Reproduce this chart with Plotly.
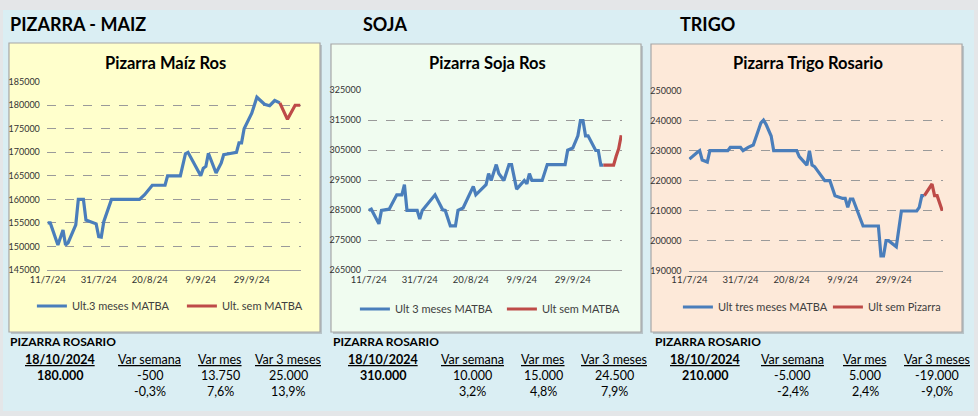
import plotly.graph_objects as go

W, H = 978, 416

# ---------------- DATA ----------------
tick_vals = ["2024-07-11", "2024-07-31", "2024-08-20", "2024-09-09", "2024-09-29"]
tick_text = ["11/7/24", "31/7/24", "20/8/24", "9/9/24", "29/9/24"]

maiz_dates = ["2024-07-11", "2024-07-12", "2024-07-15", "2024-07-17", "2024-07-18", "2024-07-19",
              "2024-07-22", "2024-07-23", "2024-07-25", "2024-07-26", "2024-07-30", "2024-07-31",
              "2024-08-01", "2024-08-02", "2024-08-05", "2024-08-16", "2024-08-18", "2024-08-21",
              "2024-08-26", "2024-08-27", "2024-09-01", "2024-09-03", "2024-09-04", "2024-09-09",
              "2024-09-10", "2024-09-11", "2024-09-12", "2024-09-15", "2024-09-17", "2024-09-18",
              "2024-09-20", "2024-09-23", "2024-09-24", "2024-09-25", "2024-09-26", "2024-09-29",
              "2024-10-01", "2024-10-02", "2024-10-04", "2024-10-06", "2024-10-08", "2024-10-10"]
maiz_vals = [155000, 155000, 150300, 153500, 150300, 150800,
             154600, 160000, 160000, 155600, 154800, 152100,
             152000, 155300, 160000, 160000, 161000, 163000,
             163000, 165000, 165000, 169700, 170000, 165000,
             166600, 167000, 169800, 165600, 167700, 169500,
             169700, 170000, 172000, 172000, 175000, 178300,
             181700, 181200, 180200, 179900, 181000, 180500]
maiz_sem_dates = ["2024-10-10", "2024-10-13", "2024-10-16", "2024-10-18"]
maiz_sem_vals = [180500, 177000, 180000, 180000]

soja_dates = ["2024-07-11", "2024-07-12", "2024-07-15", "2024-07-16", "2024-07-19", "2024-07-22",
              "2024-07-24", "2024-07-25", "2024-07-26", "2024-07-30", "2024-07-31", "2024-08-01",
              "2024-08-06", "2024-08-09", "2024-08-10", "2024-08-12", "2024-08-14", "2024-08-15",
              "2024-08-17", "2024-08-21", "2024-08-22", "2024-08-26", "2024-08-27", "2024-08-28",
              "2024-08-30", "2024-08-31", "2024-09-02", "2024-09-04", "2024-09-05", "2024-09-07",
              "2024-09-10", "2024-09-11", "2024-09-12", "2024-09-13", "2024-09-17", "2024-09-19",
              "2024-09-26", "2024-09-27", "2024-09-29", "2024-10-01", "2024-10-02", "2024-10-03",
              "2024-10-04", "2024-10-05", "2024-10-08", "2024-10-09", "2024-10-10", "2024-10-11"]
soja_vals = [284900, 285300, 280400, 284900, 285300, 290100,
             290100, 293500, 284900, 284900, 282000, 284900,
             290100, 285100, 284900, 279700, 279700, 284900,
             285700, 292900, 290100, 293500, 297200, 294900,
             300200, 297200, 294900, 300200, 300200, 292000,
             294900, 293800, 297200, 294900, 294900, 300200,
             300200, 305000, 305700, 309800, 314900, 314900,
             309800, 309800, 304900, 304900, 300000, 300000]
soja_sem_dates = ["2024-10-11", "2024-10-15", "2024-10-16", "2024-10-17", "2024-10-18"]
soja_sem_vals = [300000, 300000, 303000, 305500, 310000]

trigo_dates = ["2024-07-11", "2024-07-13", "2024-07-14", "2024-07-15", "2024-07-16", "2024-07-18",
               "2024-07-19", "2024-07-26", "2024-07-27", "2024-07-31", "2024-08-01", "2024-08-03",
               "2024-08-05", "2024-08-08", "2024-08-09", "2024-08-10", "2024-08-12", "2024-08-13",
               "2024-08-22", "2024-08-23", "2024-08-26", "2024-08-27", "2024-08-28", "2024-08-29",
               "2024-09-01", "2024-09-02", "2024-09-04", "2024-09-06", "2024-09-09", "2024-09-10",
               "2024-09-11", "2024-09-12", "2024-09-13", "2024-09-17", "2024-09-23", "2024-09-24",
               "2024-09-25", "2024-09-26", "2024-09-27", "2024-09-30", "2024-10-02", "2024-10-08",
               "2024-10-09", "2024-10-10", "2024-10-11"]
trigo_vals = [227200, 228900, 229400, 230000, 226900, 226200,
              230000, 230000, 231100, 231100, 230000, 231100,
              231900, 239300, 240200, 238800, 234900, 230000,
              230000, 228000, 225200, 230000, 225200, 224700,
              221300, 220000, 220000, 215000, 214100, 214100,
              211100, 213900, 213900, 204900, 204900, 194900,
              194900, 200000, 200000, 198000, 209900, 209900,
              211100, 215000, 215000]
trigo_sem_dates = ["2024-10-11", "2024-10-14", "2024-10-15", "2024-10-16", "2024-10-18"]
trigo_sem_vals = [215000, 218900, 215000, 215000, 210000]

section_titles = ["PIZARRA - MAIZ", "SOJA", "TRIGO"]
chart_titles = ["Pizarra Maíz Ros", "Pizarra Soja Ros", "Pizarra Trigo Rosario"]
names_3m = ["Ult.3 meses MATBA", "Ult 3 meses MATBA", "Ult tres meses MATBA"]
names_sem = ["Ult. sem MATBA", "Ult sem MATBA", "Ult sem Pizarra"]
y_ranges = [(145000, 185000, 5000), (265000, 325000, 10000), (190000, 250000, 10000)]

table_label = "PIZARRA ROSARIO"
table_headers = ["18/10/2024", "Var semana", "Var mes", "Var 3 meses"]
table_prices = ["180.000", "310.000", "210.000"]
table_var_abs = [["-500", "13.750", "25.000"], ["10.000", "15.000", "24.500"], ["-5.000", "5.000", "-19.000"]]
table_var_pct = [["-0,3%", "7,6%", "13,9%"], ["3,2%", "4,8%", "7,9%"], ["-2,4%", "2,4%", "-9,0%"]]

# ---------------- LAYOUT GEOMETRY (px) ----------------
FONT = "Lato"
BLUE = "#4A7EBB"
RED = "#BE4B48"
box_fills = ["#FFFFCC", "#F0FCF0", "#FDE9D9"]
boxes = [(9, 43, 321, 332), (332, 44, 643, 332), (653, 44, 965, 332)]
plot_areas = [(47, 81.7, 302, 270), (369, 90.3, 624, 270), (690.7, 90.7, 946, 270.7)]
section_x = [8, 362, 680]
legend_x = [32, 356, 680]
legend_entry = [105, 102, 105]
legend_y = [306, 309, 307]
table_left = [8, 332, 655]
table_cols = [[60, 150, 221, 289], [384, 474, 545, 616], [707, 795, 868, 940]]


def px(x):
    return x / W


def py(y):
    return 1 - y / H


series = [
    (maiz_dates, maiz_vals, maiz_sem_dates, maiz_sem_vals),
    (soja_dates, soja_vals, soja_sem_dates, soja_sem_vals),
    (trigo_dates, trigo_vals, trigo_sem_dates, trigo_sem_vals),
]

fig = go.Figure()
shapes = [
    dict(type="rect", xref="paper", yref="paper", x0=px(3), x1=px(977), y0=py(411), y1=py(10),
         fillcolor="#DAEEF3", line=dict(width=0), layer="below"),
]
annotations = []

for i in range(3):
    xa = "x" if i == 0 else f"x{i+1}"
    ya = "y" if i == 0 else f"y{i+1}"
    lg = "legend" if i == 0 else f"legend{i+1}"
    d3m, v3m, dsem, vsem = series[i]
    fig.add_trace(go.Scatter(x=d3m, y=v3m, mode="lines", name=names_3m[i], xaxis=xa, yaxis=ya,
                             legend=lg, line=dict(color=BLUE, width=3.2), hoverinfo="skip"))
    fig.add_trace(go.Scatter(x=dsem, y=vsem, mode="lines", name=names_sem[i], xaxis=xa, yaxis=ya,
                             legend=lg, line=dict(color=RED, width=3.2), hoverinfo="skip"))

    bx0, by0, bx1, by1 = boxes[i]
    shapes.append(dict(type="rect", xref="paper", yref="paper", x0=px(bx0 + 2), x1=px(bx1 + 2),
                       y0=py(by1 + 2), y1=py(by0 + 2), fillcolor="#B8C4C8",
                       line=dict(width=0), layer="below"))
    shapes.append(dict(type="rect", xref="paper", yref="paper", x0=px(bx0), x1=px(bx1),
                       y0=py(by1), y1=py(by0), fillcolor=box_fills[i],
                       line=dict(color="#A6A6A6", width=1.2), layer="below"))

    ax0, ay0, ax1, ay1 = plot_areas[i]
    lo, hi, step = y_ranges[i]
    xkey = "xaxis" if i == 0 else f"xaxis{i+1}"
    ykey = "yaxis" if i == 0 else f"yaxis{i+1}"
    fig.update_layout(**{
        xkey: dict(domain=[px(ax0), px(ax1)], anchor=ya, type="date", automargin=False,
                   range=["2024-07-10 16:00", "2024-10-18 08:00"],
                   tickvals=tick_vals, ticktext=tick_text, showgrid=False,
                   showline=True, linecolor="#A0A0A0", linewidth=1.3, ticks="",
                   tickfont=dict(size=9.5, color="#333333", family=FONT), zeroline=False),
        ykey: dict(domain=[py(ay1), py(ay0)], anchor=xa, range=[lo, hi], dtick=step, tick0=lo,
                   automargin=False,
                   showgrid=True, gridcolor="#9A9A9A", griddash="dash", gridwidth=0.8,
                   zeroline=False, showline=False, ticks="", tickformat="d",
                   tickfont=dict(size=9, color="#333333", family=FONT), ticklabelstandoff=6),
        lg: dict(orientation="h", x=px(legend_x[i]), xanchor="left", y=py(legend_y[i]),
                 yanchor="middle",
                 bgcolor="rgba(0,0,0,0)", font=dict(size=11, color="#404040", family=FONT),
                 entrywidth=legend_entry[i], entrywidthmode="pixels", traceorder="normal"),
    })

    annotations.append(dict(xref="paper", yref="paper", x=px(section_x[i]), y=py(24),
                            xanchor="left", yanchor="middle", showarrow=False,
                            text=f"<b>{section_titles[i]}</b>",
                            font=dict(size=18, color="#000000", family=FONT)))
    annotations.append(dict(xref="paper", yref="paper", x=px((bx0 + bx1) / 2 + 1), y=py(63),
                            xanchor="center", yanchor="middle", showarrow=False,
                            text=f"<b>{chart_titles[i]}</b>",
                            font=dict(size=16.5, color="#000000", family=FONT)))
    annotations.append(dict(xref="paper", yref="paper", x=px(table_left[i]), y=py(341),
                            xanchor="left", yanchor="middle", showarrow=False,
                            text=f"<b>{table_label}</b>",
                            font=dict(size=12, color="#000000", family=FONT)))
    cols = table_cols[i]
    for j, hdr in enumerate(table_headers):
        t = f"<b><u>{hdr}</u></b>" if j == 0 else f"<u>{hdr}</u>"
        annotations.append(dict(xref="paper", yref="paper", x=px(cols[j]), y=py(359),
                                xanchor="center", yanchor="middle", showarrow=False, text=t,
                                font=dict(size=12.5, color="#000000", family=FONT)))
    annotations.append(dict(xref="paper", yref="paper", x=px(cols[0]), y=py(375),
                            xanchor="center", yanchor="middle", showarrow=False,
                            text=f"<b>{table_prices[i]}</b>",
                            font=dict(size=12.5, color="#000000", family=FONT)))
    for j in range(3):
        annotations.append(dict(xref="paper", yref="paper", x=px(cols[j + 1]), y=py(375),
                                xanchor="center", yanchor="middle", showarrow=False,
                                text=table_var_abs[i][j],
                                font=dict(size=12.5, color="#000000", family=FONT)))
        annotations.append(dict(xref="paper", yref="paper", x=px(cols[j + 1]), y=py(391),
                                xanchor="center", yanchor="middle", showarrow=False,
                                text=table_var_pct[i][j],
                                font=dict(size=12.5, color="#000000", family=FONT)))

fig.update_layout(
    template="none",
    width=W, height=H, autosize=False,
    margin=dict(l=0, r=0, t=0, b=0, pad=0),
    paper_bgcolor="#E4E6E8", plot_bgcolor="rgba(0,0,0,0)",
    font=dict(family=FONT, color="#000000"),
    shapes=shapes, annotations=annotations, showlegend=True,
)

fig.write_html("out.html")
